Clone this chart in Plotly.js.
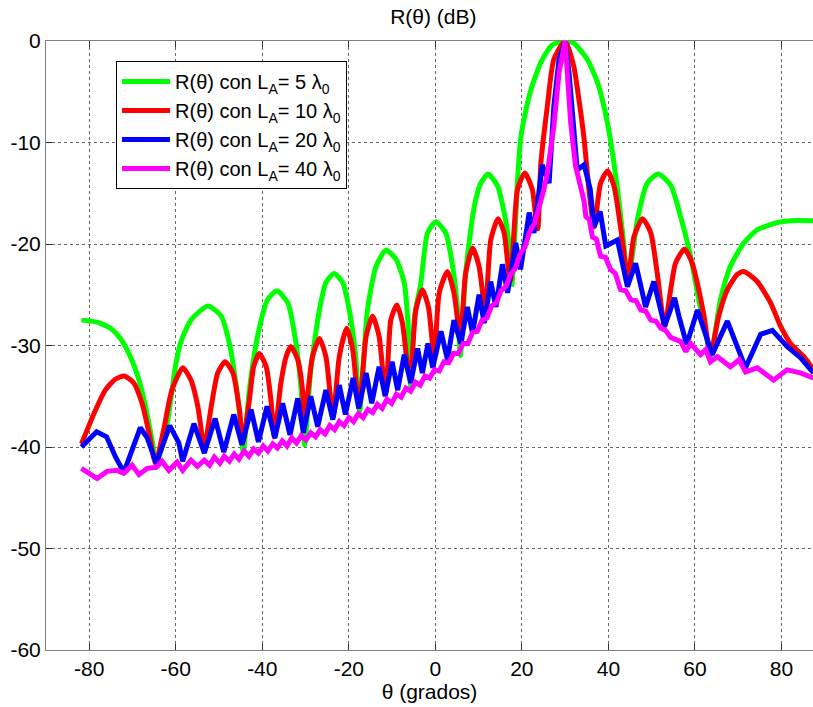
<!DOCTYPE html>
<html>
<head>
<meta charset="utf-8">
<script src="https://cdn.plot.ly/plotly-3.0.1.min.js"></script>
<style>html,body{margin:0;padding:0;background:#fff;}#chart{width:813px;height:707px;}</style>
</head>
<body>
<div id="chart"></div>
<script>
// L_A = 5 lambda0
const theta5 = [-81.8,-78.2,-75.1,-72.8,-70.5,-68.5,-67.0,-65.5,-64.5,-62.0,-60.1,-58.8,-56.5,-52.6,-49.5,-47.6,-46.1,-45.3,-44.4,-43.0,-41.1,-38.8,-36.6,-34.1,-32.2,-31.0,-30.2,-28.8,-26.8,-25.3,-23.4,-21.4,-19.9,-18.4,-17.5,-15.7,-13.7,-11.4,-9.1,-7.2,-6.3,-5.7,-4.8,-3.4,-1.8,0.1,2.4,4.0,5.1,5.8,7.0,9.0,10.5,12.2,14.4,15.9,17.0,17.7,19.0,19.7,20.5,22.1,24.5,27.0,30.0,32.0,35.1,37.5,39.8,42.1,43.6,44.5,46.7,49.0,51.5,54.4,56.7,59.0,60.9,62.5,63.6,65.9,68.2,71.3,74.4,79.0,82.1,87.4];
const r5 = [-27.5,-27.7,-28.3,-29.3,-31.1,-33.4,-36.0,-39.3,-41.6,-37.7,-32.1,-29.6,-27.5,-26.1,-27.1,-29.8,-33.7,-36.5,-40.5,-34.4,-29.1,-25.5,-24.6,-25.8,-29.8,-34.5,-39.8,-32.4,-26.5,-23.8,-22.9,-23.8,-26.5,-31.1,-36.5,-26.5,-22.2,-20.6,-21.5,-23.8,-28.0,-34.0,-27.0,-24.0,-18.9,-17.8,-18.9,-22.2,-26.2,-31.0,-22.9,-16.3,-14.0,-13.1,-14.3,-16.9,-19.8,-24.0,-13.7,-9.7,-7.7,-4.8,-2.0,-0.4,0.0,-0.2,-1.8,-4.1,-8.1,-14.6,-20.2,-24.0,-17.6,-14.0,-13.1,-14.2,-17.3,-21.2,-25.5,-28.8,-31.1,-25.5,-22.2,-19.9,-18.6,-17.9,-17.7,-17.7];

// L_A = 10 lambda0
const theta10 = [-81.8,-78.9,-76.3,-73.9,-71.9,-69.7,-67.8,-66.2,-64.7,-62.8,-60.9,-58.4,-56.5,-54.9,-53.4,-51.8,-50.3,-48.6,-46.8,-45.3,-44.5,-43.0,-42.0,-40.7,-39.1,-38.0,-37.2,-35.7,-34.5,-33.4,-31.8,-30.8,-30.2,-28.4,-26.8,-25.3,-24.1,-23.6,-22.2,-20.5,-19.1,-18.0,-17.5,-16.0,-14.5,-13.0,-11.8,-11.4,-10.3,-8.9,-7.6,-6.4,-5.8,-4.5,-3.0,-1.6,-0.6,-0.2,0.9,2.8,4.3,5.5,5.8,7.0,8.6,10.1,11.3,11.6,12.8,14.5,15.9,17.0,17.4,19.0,20.7,22.4,23.2,23.7,24.4,25.9,27.4,30.0,32.0,33.2,34.4,35.5,36.7,38.2,39.8,41.3,42.8,44.0,44.5,45.9,47.9,49.8,51.3,53.0,54.4,55.5,57.6,59.4,60.9,62.1,63.6,65.5,67.5,69.8,71.3,74.4,77.5,79.8,82.1,85.2,87.4];
const r10 = [-39.7,-36.7,-34.4,-33.3,-33.0,-33.7,-35.7,-38.6,-41.6,-38.3,-34.4,-32.2,-33.4,-36.0,-40.0,-36.0,-32.7,-31.6,-32.7,-36.3,-39.5,-35.4,-32.1,-30.8,-32.1,-35.4,-39.0,-33.7,-31.1,-30.1,-31.4,-34.0,-37.0,-31.1,-29.3,-31.1,-35.7,-37.0,-31.1,-28.3,-30.4,-35.0,-35.8,-29.1,-27.1,-29.1,-34.0,-34.6,-27.5,-26.0,-27.8,-32.1,-33.2,-26.5,-24.5,-26.2,-30.1,-31.0,-24.8,-22.7,-24.8,-28.8,-29.6,-22.9,-20.4,-22.2,-26.2,-27.0,-19.6,-17.5,-18.9,-22.9,-23.6,-14.6,-13.0,-14.6,-17.3,-18.5,-12.0,-6.4,-1.8,0.0,-2.5,-5.8,-9.7,-14.6,-18.3,-14.0,-12.8,-14.3,-18.3,-22.2,-23.8,-19.3,-17.5,-18.9,-22.9,-28.1,-24.5,-21.9,-20.5,-21.9,-24.5,-27.1,-30.9,-27.1,-24.5,-23.0,-22.7,-23.7,-25.8,-28.1,-29.8,-31.1,-32.4];

// L_A = 20 lambda0
const theta20 = [-81.8,-78.3,-76.0,-73.9,-72.0,-70.1,-68.2,-66.6,-64.5,-61.4,-59.3,-58.4,-55.8,-53.4,-50.9,-48.9,-46.6,-44.7,-42.6,-40.9,-38.9,-37.1,-35.3,-33.6,-31.8,-30.5,-28.8,-27.2,-25.3,-23.7,-22.2,-20.8,-19.0,-17.7,-16.0,-14.7,-13.0,-11.6,-10.0,-8.7,-7.2,-5.7,-4.1,-3.0,-1.7,-0.6,1.3,2.8,4.3,5.9,7.4,8.6,10.1,11.3,12.8,14.0,15.5,16.7,18.6,19.7,21.7,22.8,24.7,26.3,27.4,28.6,30.0,30.9,32.0,32.8,34.4,35.8,36.7,38.1,39.4,42.1,44.4,46.3,48.6,50.5,53.0,55.3,56.3,58.1,60.6,62.1,64.0,67.5,69.4,71.7,75.2,77.9,81.3,84.4,87.4];
const r20 = [-40.0,-38.5,-39.0,-41.0,-42.5,-40.3,-38.1,-39.1,-41.6,-37.9,-39.6,-41.4,-37.7,-40.6,-37.2,-40.5,-36.8,-39.8,-36.3,-39.5,-36.0,-39.1,-35.7,-38.8,-35.2,-38.6,-35.0,-38.0,-34.4,-37.3,-33.9,-36.8,-33.2,-36.2,-32.7,-35.7,-32.1,-35.0,-31.6,-34.4,-30.9,-33.7,-30.3,-32.7,-29.8,-32.2,-28.6,-31.4,-27.5,-29.8,-26.2,-28.8,-25.0,-27.8,-23.7,-26.2,-22.0,-24.8,-19.9,-22.5,-16.9,-18.9,-12.2,-14.0,-6.4,-1.8,0.0,-3.1,-8.1,-12.7,-12.2,-14.6,-18.3,-16.8,-20.2,-19.6,-24.2,-21.9,-26.2,-23.7,-28.1,-25.3,-27.1,-29.9,-26.5,-28.5,-30.9,-27.6,-29.8,-32.2,-28.9,-28.5,-30.1,-31.2,-32.7];

// L_A = 40 lambda0
const theta40 = [-81.8,-78.2,-75.9,-73.6,-72.0,-70.1,-68.5,-66.6,-64.5,-63.2,-61.6,-59.7,-58.4,-56.5,-55.0,-53.4,-52.2,-51.1,-49.8,-48.8,-47.6,-46.5,-45.4,-44.2,-43.1,-42.0,-40.9,-39.8,-38.7,-37.6,-36.5,-35.4,-34.3,-33.2,-32.1,-31.0,-29.9,-28.8,-27.7,-26.6,-25.5,-24.4,-23.3,-22.2,-21.1,-20.0,-18.9,-17.8,-16.7,-15.6,-14.5,-13.4,-12.3,-11.2,-10.1,-9.0,-7.9,-6.8,-5.7,-4.6,-3.5,-2.4,-1.3,-0.2,0.9,2.0,3.1,4.2,5.3,6.4,7.5,8.6,9.7,10.8,11.9,13.0,14.1,15.2,16.3,17.4,18.5,19.6,20.7,21.8,22.9,24.0,25.0,25.9,26.7,27.4,28.6,29.7,30.0,30.5,31.3,32.4,33.6,34.4,34.8,35.6,36.3,37.2,38.2,39.3,40.5,41.6,42.8,44.0,45.2,46.4,47.5,48.6,49.8,51.0,52.1,53.2,54.4,56.7,57.9,59.0,61.3,62.5,63.6,65.2,68.2,70.2,71.7,74.4,78.2,81.3,84.4,87.4];
const r40 = [-42.1,-43.1,-42.4,-42.3,-42.6,-41.8,-42.7,-42.1,-42.0,-41.4,-42.3,-41.5,-42.3,-41.3,-41.9,-41.3,-41.8,-41.0,-41.6,-40.9,-41.4,-40.7,-41.2,-40.4,-40.9,-40.2,-40.6,-39.9,-40.4,-39.7,-40.1,-39.4,-39.9,-39.1,-39.6,-38.9,-39.3,-38.6,-39.0,-38.3,-38.7,-37.9,-38.3,-37.5,-37.9,-37.1,-37.5,-36.7,-37.1,-36.3,-36.6,-35.8,-36.2,-35.3,-35.7,-34.8,-35.1,-34.2,-34.5,-33.6,-33.9,-33.0,-33.2,-32.4,-32.5,-31.6,-31.7,-30.8,-30.8,-29.8,-29.8,-28.7,-28.6,-27.5,-27.3,-26.1,-25.8,-24.6,-24.2,-23.0,-22.4,-21.0,-20.3,-18.8,-18.0,-16.4,-14.8,-13.0,-10.4,-8.4,-3.1,-0.3,0.0,-3.1,-8.1,-12.3,-14.6,-15.8,-17.3,-17.6,-19.3,-19.5,-21.2,-21.3,-22.5,-22.9,-24.5,-24.6,-25.5,-25.6,-26.5,-26.6,-27.5,-27.6,-28.3,-28.5,-29.2,-29.6,-30.6,-29.8,-30.9,-30.4,-31.6,-31.1,-32.1,-31.4,-32.6,-32.2,-33.4,-32.4,-32.7,-33.2];

const seriesNames = [
  'R(θ) con L<sub>A</sub>= 5 λ<sub>0</sub>',
  'R(θ) con L<sub>A</sub>= 10 λ<sub>0</sub>',
  'R(θ) con L<sub>A</sub>= 20 λ<sub>0</sub>',
  'R(θ) con L<sub>A</sub>= 40 λ<sub>0</sub>'
];
const seriesColors = ['#00ff00','#ff0000','#0000ff','#ff00ff'];

const xTickVals = [-80,-60,-40,-20,0,20,40,60,80];
const xTickText = ['-80','-60','-40','-20','0','20','40','60','80'];
const yTickVals = [-60,-50,-40,-30,-20,-10,0];
const yTickText = ['-60','-50','-40','-30','-20','-10','0'];

const xs = [theta5, theta10, theta20, theta40];
const ys = [r5, r10, r20, r40];
const shapes = ['spline','spline','linear','linear'];

const traces = xs.map((x, i) => ({
  x: x, y: ys[i], type: 'scatter', mode: 'lines',
  name: seriesNames[i], legendgroup: 'g' + i,
  line: {color: seriesColors[i], width: 5, shape: shapes[i], smoothing: 0.6}
}));

const FONT = 'Liberation Sans, Arial, Helvetica, sans-serif';
const axisCommon = {
  showgrid: true, gridcolor: '#666', griddash: 'dot', gridwidth: 1,
  zeroline: false, showline: true, linecolor: '#808080', linewidth: 1,
  ticks: 'inside', ticklen: 6, tickcolor: '#333', tickwidth: 1,
  tickfont: {family: FONT, size: 21, color: '#000'}
};

const layout = {
  width: 813, height: 707,
  margin: {l: 46, r: 0, t: 41, b: 57},
  paper_bgcolor: '#fff', plot_bgcolor: '#fff',
  font: {family: FONT, size: 21, color: '#000'},
  showlegend: true,
  title: {text: 'R(θ) (dB)', xref: 'paper', x: 0.505, xanchor: 'center',
          yref: 'container', y: 0.976, yanchor: 'middle',
          font: {family: FONT, size: 21, color: '#000'}},
  xaxis: Object.assign({}, axisCommon, {
    range: [-90, 87.3], tickmode: 'array', tickvals: xTickVals, ticktext: xTickText,
    mirror: 'ticks',
    title: {text: 'θ (grados)', font: {family: FONT, size: 21, color: '#000'}, standoff: 1}
  }),
  yaxis: Object.assign({}, axisCommon, {
    range: [-60, 0], tickmode: 'array', tickvals: yTickVals, ticktext: yTickText,
    mirror: false
  }),
  legend: {
    x: 0.0913, y: 0.967, xanchor: 'left', yanchor: 'top',
    bgcolor: '#fff', bordercolor: '#000', borderwidth: 1,
    font: {family: FONT, size: 20, color: '#000'},
    itemwidth: 48,
    tracegroupgap: 0
  }
};

Plotly.newPlot('chart', traces, layout, {displayModeBar: false, staticPlot: true});
</script>
</body>
</html>
